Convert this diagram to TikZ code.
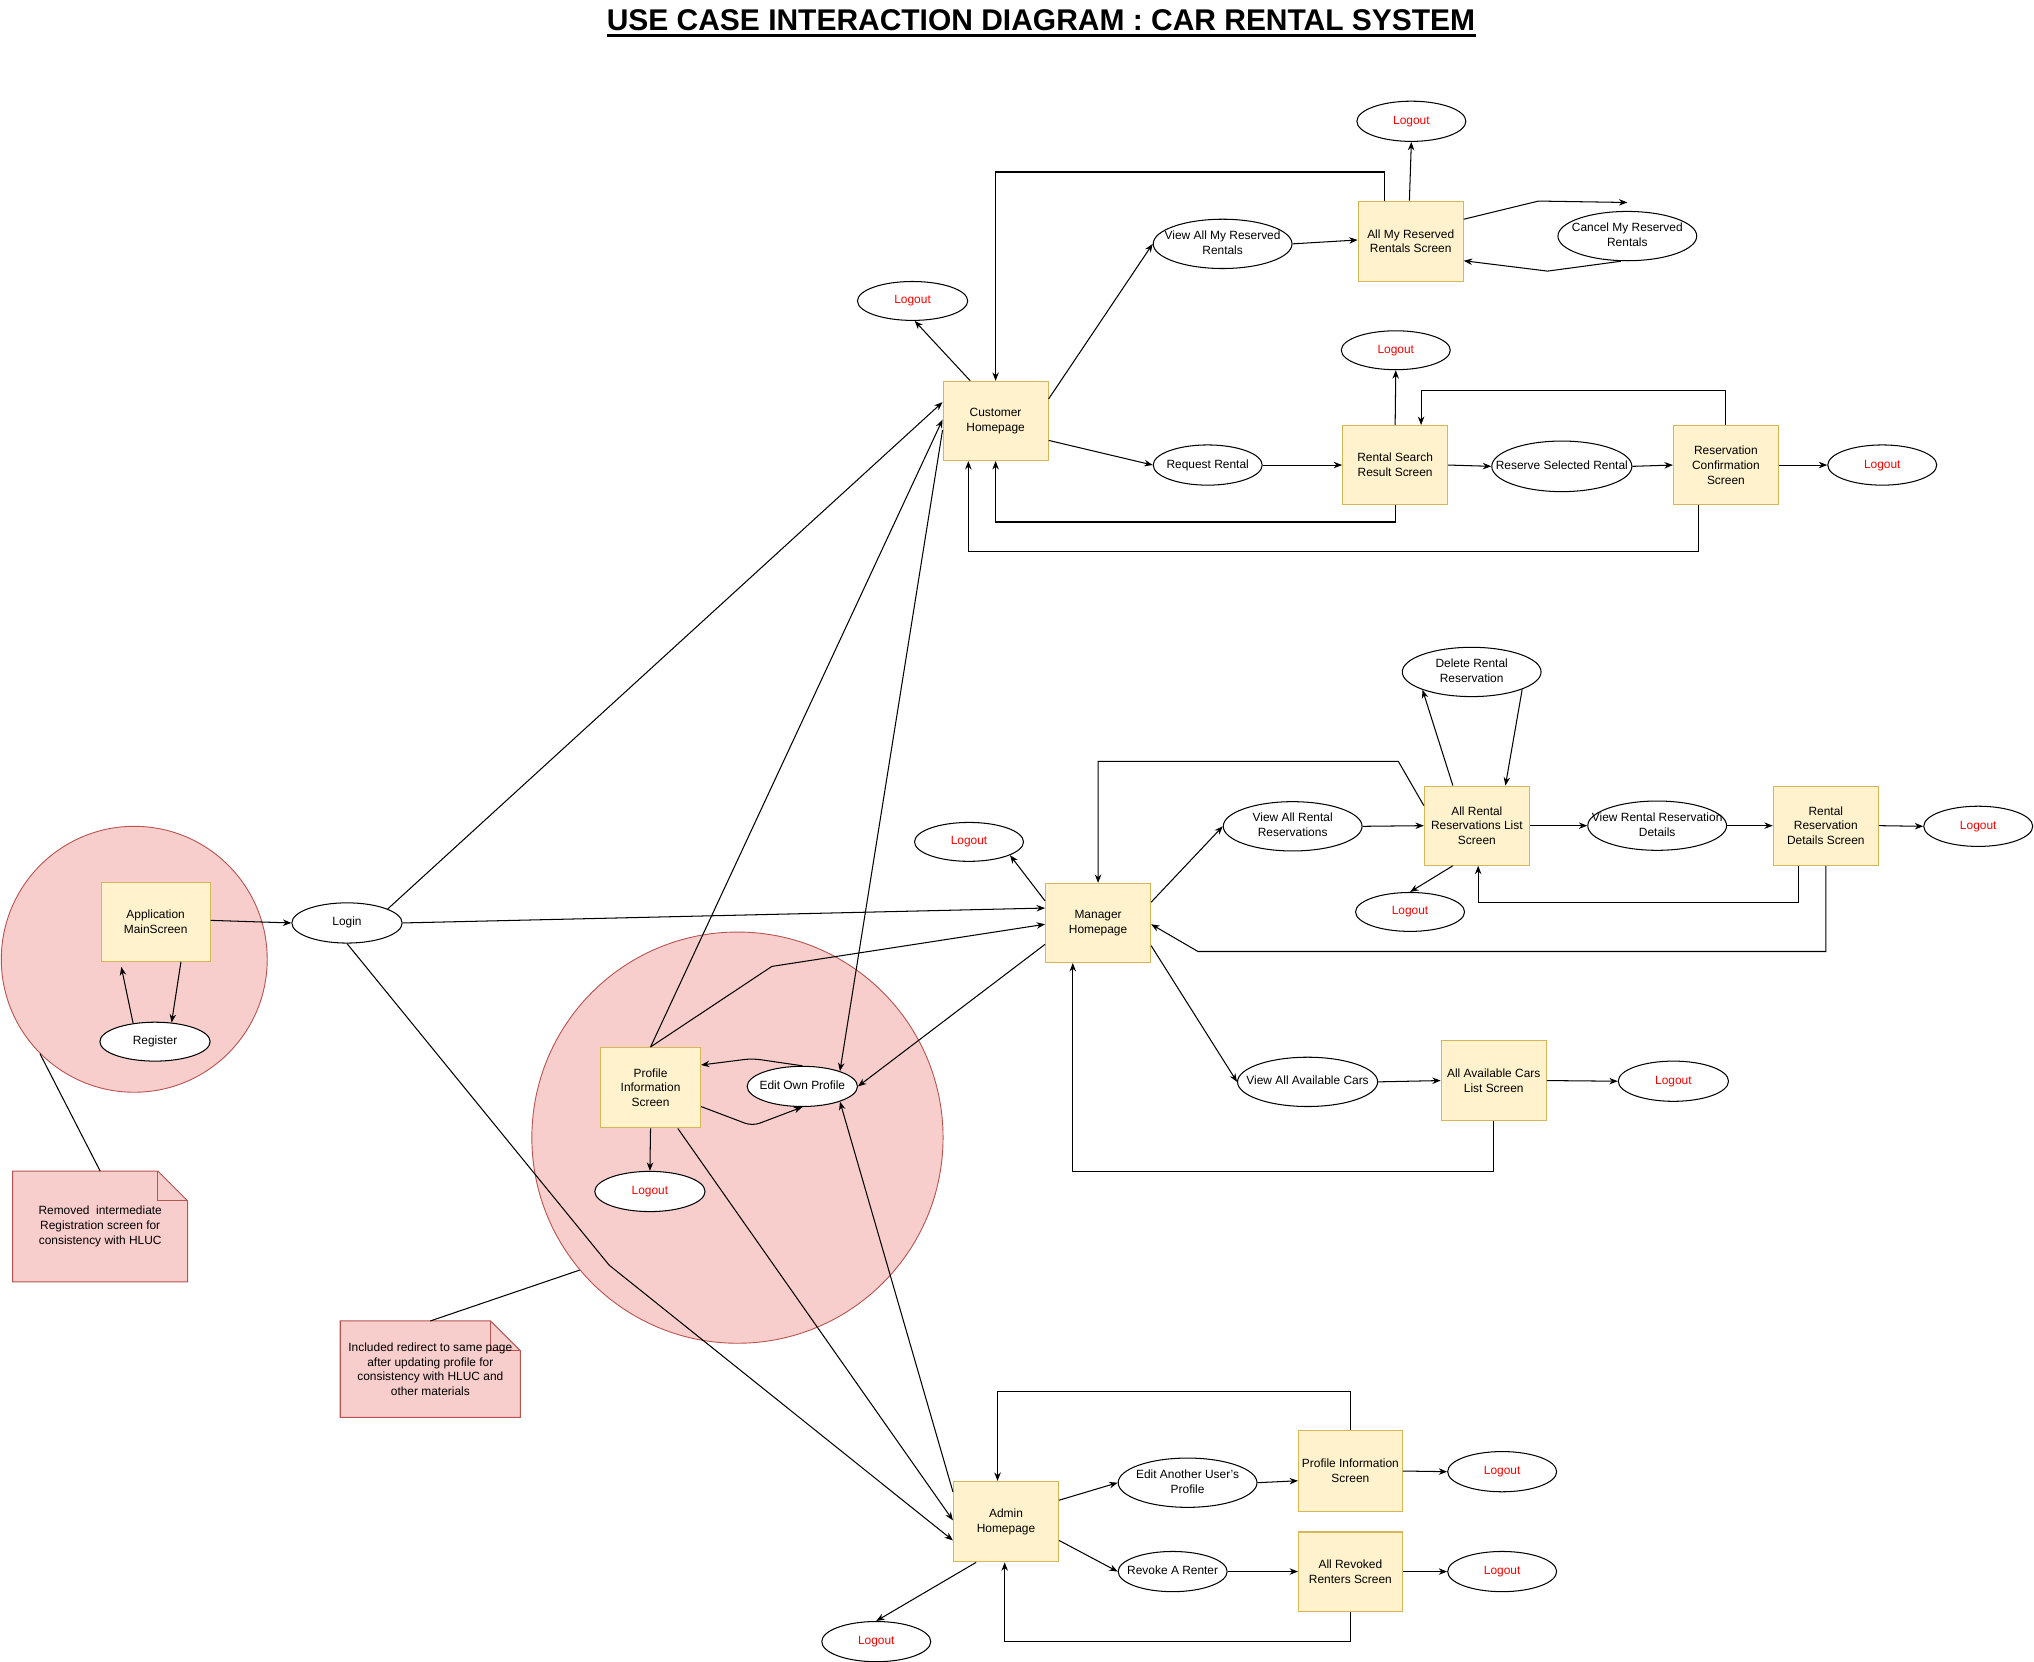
\documentclass[tikz,border=0pt]{standalone}
\usepackage{fontspec}
\setmainfont{Liberation Sans}
\usetikzlibrary{shapes.geometric,arrows.meta,backgrounds}
\definecolor{boxfill}{HTML}{FFF2CC}
\definecolor{boxdraw}{HTML}{D6B656}
\definecolor{pinkfill}{HTML}{F8CECC}
\definecolor{pinkdraw}{HTML}{B85450}
\newcommand\ct[1]{\makebox[0pt][c]{\begin{tabular}{@{}c@{}}#1\end{tabular}}}
\newcommand\fsz{\fontsize{9.2}{11.4}\selectfont}
\begin{document}
\begin{tikzpicture}[x=1pt,y=-1pt,
  box/.style={rectangle, draw=boxdraw, fill=boxfill, line width=0.8pt, minimum width=81pt, minimum height=61pt, inner sep=1pt, align=center, font=\fsz},
  uc/.style={ellipse, draw=black, fill=white, line width=0.8pt, inner sep=0pt, minimum width=107pt, minimum height=38pt, font=\fsz},
  lo/.style={uc, minimum width=84pt, minimum height=31pt, text=red},
  zone/.style={circle, draw=pinkdraw, fill=pinkfill, line width=0.7pt, inner sep=0pt},
  notetxt/.style={inner sep=0pt, align=center, font=\fsz},
  noteshape/.style={draw=pinkdraw, fill=pinkfill, line width=0.8pt},
  con/.style={draw=black, line width=0.8pt, -{Stealth[length=6.5pt,width=5pt]}},
  plain/.style={draw=black, line width=0.8pt}]
\useasboundingbox (0,0) rectangle (1568,1281);

% title
\node[inner sep=0pt, anchor=base, font=\fontsize{23.1}{27}\selectfont\bfseries] (title) at (802.5,23.6) {USE CASE INTERACTION DIAGRAM : CAR RENTAL SYSTEM};
\draw[line width=2.3pt] ([yshift=-3.6pt]title.base west) -- ([yshift=-3.6pt]title.base east);

% zones
\node[zone, minimum size=205pt] (c1) at (103.5,739.5) {};
\node[zone, minimum size=317pt] (c2) at (568.5,877) {};

% notes
\node[notetxt, minimum width=134.5pt, minimum height=85pt] (n1) at (77.25,945.5) {Removed~ intermediate\\Registration screen for\\consistency with HLUC};
\node[notetxt, minimum width=138.5pt, minimum height=74pt] (n2) at (331.75,1055.5) {Included redirect to same page\\after updating profile for\\consistency with HLUC and\\other materials};
\begin{scope}[on background layer]
\foreach \n in {n1,n2}{
  \path[noteshape] (\n.north west) -- ([xshift=-23pt]\n.north east) -- ([yshift=-23pt]\n.north east) -- (\n.south east) -- (\n.south west) -- cycle;
  \draw[pinkdraw, line width=0.8pt] ([xshift=-23pt]\n.north east) |- ([yshift=-23pt]\n.north east);
}
\end{scope}
\draw[plain] (c1.225) -- (n1.north);
\draw[plain] (c2.220) -- (n2.north);

% screens
\node[box] (ch) at (767.5,324.5) {Customer\\Homepage};
\node[box, minimum height=62pt] (amr) at (1087.5,186) {All My Reserved\\Rentals Screen};
\node[box] (rsr) at (1075.5,358.5) {Rental Search\\Result Screen};
\node[box] (rcs) at (1330.5,358.5) {Reservation\\Confirmation\\Screen};
\node[box] (mh) at (846.5,711.5) {Manager\\Homepage};
\node[box] (arl) at (1138.5,636.5) {All Rental\\Reservations List\\Screen};
\node[box] (rrd) at (1407.5,636.5) {Rental\\Reservation\\Details Screen};
\node[box, minimum height=62pt] (acl) at (1151.5,833) {All Available Cars\\List Screen};
\node[box, minimum width=84pt] (ams) at (120,710.5) {Application\\MainScreen};
\node[box, minimum width=77pt, minimum height=62pt] (pis) at (501.5,838.5) {Profile\\Information\\Screen};
\node[box, minimum height=62pt] (ah) at (775.5,1173) {Admin\\Homepage};
\node[box, minimum width=80pt, minimum height=62pt] (api) at (1041,1134) {Profile Information\\Screen};
\node[box, minimum width=80pt] (arr) at (1041,1211.5) {All Revoked\\Renters Screen};

% use cases
\node[lo] (loamr) at (1088,93.5) {\ct{Logout}};
\node[uc] (vamr) at (942.5,188) {\ct{View All My Reserved\\Rentals}};
\node[uc] (cmr) at (1254.5,182) {\ct{Cancel My Reserved\\Rentals}};
\node[lo, minimum width=85pt, minimum height=30pt] (loch) at (703.5,232) {\ct{Logout}};
\node[lo, minimum height=30pt] (lorsr) at (1076,270) {\ct{Logout}};
\node[uc, minimum width=84pt, minimum height=31pt] (rr) at (931,358.5) {\ct{Request Rental}};
\node[uc, minimum width=108pt, minimum height=39pt] (rsel) at (1204,359.5) {\ct{Reserve Selected Rental}};
\node[lo] (lorcs) at (1451,358.5) {\ct{Logout}};
\node[uc] (drr) at (1134.5,518) {\ct{Delete Rental\\Reservation}};
\node[uc] (varr) at (996.5,637) {\ct{View All Rental\\Reservations}};
\node[uc] (vrrd) at (1277.5,636.5) {\ct{View Rental Reservation\\Details}};
\node[lo] (lorrd) at (1525,637) {\ct{Logout}};
\node[lo, minimum height=30pt] (loarl) at (1087,703) {\ct{Logout}};
\node[lo, minimum height=30pt] (lomh) at (747,649) {\ct{Logout}};
\node[uc, minimum width=108pt] (vac) at (1008,834) {\ct{View All Available Cars}};
\node[lo, minimum width=85pt] (loacl) at (1290,833.5) {\ct{Logout}};
\node[uc, minimum width=85pt, minimum height=31pt] (login) at (267.5,711.5) {\ct{Login}};
\node[uc, minimum width=85pt, minimum height=30pt] (reg) at (119.5,803) {\ct{Register}};
\node[uc, minimum width=85pt, minimum height=31pt] (eop) at (618.5,837.5) {\ct{Edit Own Profile}};
\node[lo, minimum width=85pt] (lopis) at (501,918.5) {\ct{Logout}};
\node[uc] (eaup) at (915.5,1143) {\ct{Edit Another User's\\Profile}};
\node[uc, minimum width=84pt, minimum height=31pt] (rar) at (904,1211.5) {\ct{Revoke A Renter}};
\node[lo] (loapi) at (1158,1134.5) {\ct{Logout}};
\node[lo] (loarr) at (1158,1211.5) {\ct{Logout}};
\node[lo] (loah) at (675.5,1265.5) {\ct{Logout}};

% customer connectors
\draw[con] (login.19) -- ([yshift=14.5pt]ch.west);
\draw[con] (pis.north) -- ([yshift=1pt]ch.west);
\draw[con] ([yshift=-7pt]ch.west) -- (eop.22);
\draw[con] ([xshift=-19.5pt]ch.north) -- (loch.-84);
\draw[con] ([yshift=17pt]ch.east) -- (vamr.west);
\draw[con] (vamr.east) -- ([yshift=1pt]amr.west);
\draw[con] ([xshift=-1pt]amr.north) -- (loamr.south);
\draw[con] ([xshift=-20.5pt]amr.north) -- ++(0,-22) -| (ch.north);
\draw[con] ([yshift=17pt]amr.east) -- (1186,155) -- ([yshift=6.5pt]cmr.north);
\draw[con] ([xshift=-5pt]cmr.south) -- (1193,209) -- ([yshift=-15pt]amr.east);
\draw[con] ([yshift=-15pt]ch.east) -- (rr.west);
\draw[con] (rr.east) -- (rsr.west);
\draw[con] (rsr.north) -- (lorsr.south);
\draw[con] (rsr.south) -- ++(0,13) -| (ch.south);
\draw[con] (rsr.east) -- (rsel.west);
\draw[con] (rsel.east) -- (rcs.west);
\draw[con] (rcs.north) -- ++(0,-26.5) -| ([xshift=20pt]rsr.north);
\draw[con] (rcs.east) -- (lorcs.west);
\draw[con] ([xshift=-21pt]rcs.south) -- ++(0,36) -| ([xshift=-21pt]ch.south);

% manager connectors
\draw[con] (login.east) -- ([yshift=11.5pt]mh.west);
\draw[con] (pis.north) -- (595,745) -- ([yshift=-1pt]mh.west);
\draw[con] ([yshift=-16.5pt]mh.west) -- (eop.east);
\draw[con] ([yshift=17pt]mh.west) -- (lomh.-18);
\draw[con] ([yshift=16pt]mh.east) -- (varr.west);
\draw[con] (varr.east) -- (arl.west);
\draw[con] ([xshift=-18.5pt]arl.north) -- (drr.200);
\draw[con] (drr.-19) -- ([xshift=22pt]arl.north);
\draw[con] ([yshift=15.5pt]arl.west) -- (1078,587) -| (mh.north);
\draw[con] ([xshift=-18.5pt]arl.south) -- (loarl.north);
\draw[con] (arl.east) -- (vrrd.west);
\draw[con] (vrrd.east) -- (rrd.west);
\draw[con] (rrd.east) -- (lorrd.west);
\draw[con] ([xshift=-21pt]rrd.south) -- ++(0,28) -| ([xshift=1pt]arl.south);
\draw[con] (rrd.south) |- (923.5,733.5) -- ([yshift=-1pt]mh.east);
\draw[con] ([yshift=-17.5pt]mh.east) -- (vac.west);
\draw[con] (vac.east) -- (acl.west);
\draw[con] (acl.east) -- (loacl.west);
\draw[con] (acl.south) -- ++(0,39) -| ([xshift=-19.5pt]mh.south);

% left connectors
\draw[con] ([yshift=1pt]ams.east) -- (login.west);
\draw[con] ([xshift=19.5pt]ams.south) -- (reg.49);
\draw[con] (reg.140) -- ([xshift=-26.5pt,yshift=-4pt]ams.south);
\draw[con] (login.south) -- (469.6,975.3) -- ([yshift=-14.5pt]ah.west);
\draw[con] ([xshift=21pt]pis.south) -- ([yshift=1pt]ah.west);
\draw[con] ([yshift=23pt]ah.west) -- (eop.-22);
\draw[con, rounded corners=6pt] ([yshift=-14.5pt]pis.east) -- (580,868) -- (eop.south);
\draw[con, rounded corners=6pt] (eop.north) -- (580,816) -- ([yshift=17.5pt]pis.east);
\draw[con] (pis.south) -- (lopis.north);

% admin connectors
\draw[con] ([yshift=16.5pt]ah.east) -- (eaup.west);
\draw[con] (eaup.east) -- ([yshift=-7.5pt]api.west);
\draw[con] (api.east) -- (loapi.west);
\draw[con] (api.north) -- ++(0,-30) -| ([xshift=-6.5pt]ah.north);
\draw[con] ([yshift=-14.5pt]ah.east) -- (rar.west);
\draw[con] (rar.east) -- (arr.west);
\draw[con] (arr.east) -- (loarr.west);
\draw[con] (arr.south) -- ++(0,23) -| ([xshift=-1pt]ah.south);
\draw[con] ([xshift=-23pt]ah.south) -- (loah.north);
\end{tikzpicture}
\end{document}
